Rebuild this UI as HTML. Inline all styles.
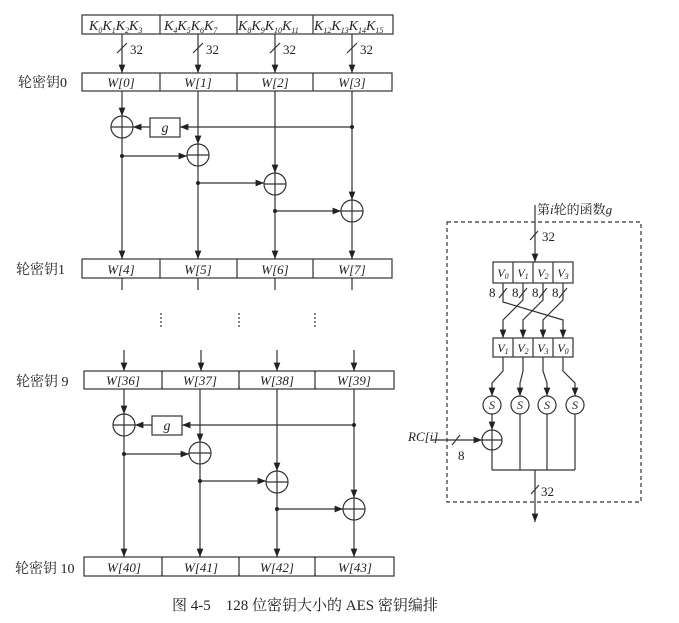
<!DOCTYPE html>
<html><head><meta charset="utf-8"><style>
html,body{margin:0;padding:0;background:#fff}
svg{display:block}
text{font-family:"Liberation Serif","Noto Serif CJK SC",serif;fill:#222}
.it{font-style:italic}
</style></head><body>
<svg width="679" height="623" viewBox="0 0 679 623" xmlns="http://www.w3.org/2000/svg">
<defs>
<marker id="a" viewBox="0 0 10 10" refX="10" refY="5" markerWidth="7" markerHeight="7" orient="auto"><path d="M0,1 L10,5 L0,9 z" fill="#222"/></marker>
</defs>
<g stroke="#333" stroke-width="1.2" fill="none">
<rect x="82" y="15" width="311" height="19"/>
<line x1="160" y1="15" x2="160" y2="34"/><line x1="237" y1="15" x2="237" y2="34"/><line x1="313" y1="15" x2="313" y2="34"/>
<line x1="122" y1="34" x2="122" y2="73" marker-end="url(#a)"/>
<line x1="198" y1="34" x2="198" y2="73" marker-end="url(#a)"/>
<line x1="275" y1="34" x2="275" y2="73" marker-end="url(#a)"/>
<line x1="352" y1="34" x2="352" y2="73" marker-end="url(#a)"/>
<line x1="117" y1="53" x2="127" y2="43"/><line x1="193" y1="53" x2="203" y2="43"/>
<line x1="270" y1="53" x2="280" y2="43"/><line x1="347" y1="53" x2="357" y2="43"/>
</g>
<g font-size="14" class="it">
<text x="89" y="30" class="it">K<tspan font-size="8" dy="3">0</tspan><tspan dy="-3">K</tspan><tspan font-size="8" dy="3">1</tspan><tspan dy="-3">K</tspan><tspan font-size="8" dy="3">2</tspan><tspan dy="-3">K</tspan><tspan font-size="8" dy="3">3</tspan></text>
<text x="164" y="30" class="it">K<tspan font-size="8" dy="3">4</tspan><tspan dy="-3">K</tspan><tspan font-size="8" dy="3">5</tspan><tspan dy="-3">K</tspan><tspan font-size="8" dy="3">6</tspan><tspan dy="-3">K</tspan><tspan font-size="8" dy="3">7</tspan></text>
<text x="238" y="30" class="it">K<tspan font-size="8" dy="3">8</tspan><tspan dy="-3">K</tspan><tspan font-size="8" dy="3">9</tspan><tspan dy="-3">K</tspan><tspan font-size="8" dy="3">10</tspan><tspan dy="-3">K</tspan><tspan font-size="8" dy="3">11</tspan></text>
<text x="314" y="30" class="it">K<tspan font-size="8" dy="3">12</tspan><tspan dy="-3">K</tspan><tspan font-size="8" dy="3">13</tspan><tspan dy="-3">K</tspan><tspan font-size="8" dy="3">14</tspan><tspan dy="-3">K</tspan><tspan font-size="8" dy="3">15</tspan></text>
</g>
<g font-size="13"><text x="130" y="54">32</text><text x="206" y="54">32</text><text x="283" y="54">32</text><text x="360" y="54">32</text></g>

<g id="r0">
<g stroke="#333" stroke-width="1.2" fill="none">
<rect x="82" y="73" width="310" height="18"/>
<line x1="160" y1="73" x2="160" y2="91"/><line x1="237" y1="73" x2="237" y2="91"/><line x1="313" y1="73" x2="313" y2="91"/>
<rect x="82" y="259" width="310" height="19"/>
<line x1="160" y1="259" x2="160" y2="278"/><line x1="237" y1="259" x2="237" y2="278"/><line x1="313" y1="259" x2="313" y2="278"/>
<circle cx="122" cy="127" r="11"/><line x1="111" y1="127" x2="133" y2="127"/><line x1="122" y1="116" x2="122" y2="138"/>
<circle cx="198" cy="155" r="11"/><line x1="187" y1="155" x2="209" y2="155"/><line x1="198" y1="144" x2="198" y2="166"/>
<circle cx="275" cy="184" r="11"/><line x1="264" y1="184" x2="286" y2="184"/><line x1="275" y1="173" x2="275" y2="195"/>
<circle cx="352" cy="211" r="11"/><line x1="341" y1="211" x2="363" y2="211"/><line x1="352" y1="200" x2="352" y2="222"/>
<rect x="150" y="118" width="30" height="19"/>
<line x1="122" y1="91" x2="122" y2="116" marker-end="url(#a)"/>
<line x1="122" y1="138" x2="122" y2="259" marker-end="url(#a)"/>
<line x1="198" y1="91" x2="198" y2="144" marker-end="url(#a)"/>
<line x1="198" y1="166" x2="198" y2="259" marker-end="url(#a)"/>
<line x1="275" y1="91" x2="275" y2="173" marker-end="url(#a)"/>
<line x1="275" y1="195" x2="275" y2="259" marker-end="url(#a)"/>
<line x1="352" y1="91" x2="352" y2="200" marker-end="url(#a)"/>
<line x1="352" y1="222" x2="352" y2="259" marker-end="url(#a)"/>
<line x1="352" y1="127" x2="180" y2="127" marker-end="url(#a)"/>
<line x1="150" y1="127" x2="133" y2="127" marker-end="url(#a)"/>
<line x1="122" y1="156" x2="187" y2="156" marker-end="url(#a)"/>
<line x1="198" y1="183" x2="264" y2="183" marker-end="url(#a)"/>
<line x1="275" y1="211" x2="341" y2="211" marker-end="url(#a)"/>
</g>
<g fill="#222"><circle cx="352" cy="127" r="2"/><circle cx="122" cy="156" r="2"/><circle cx="198" cy="183" r="2"/><circle cx="275" cy="211" r="2"/></g>
<text x="165" y="132" font-size="14" class="it" text-anchor="middle">g</text>
</g>
<g font-size="13" class="it" text-anchor="middle">
<text x="121" y="87">W[0]</text><text x="198" y="87">W[1]</text><text x="275" y="87">W[2]</text><text x="352" y="87">W[3]</text>
<text x="121" y="274">W[4]</text><text x="198" y="274">W[5]</text><text x="275" y="274">W[6]</text><text x="352" y="274">W[7]</text>
</g>
<g stroke="#333" stroke-width="1.2">
<line x1="122" y1="278" x2="122" y2="290"/><line x1="198" y1="278" x2="198" y2="290"/><line x1="275" y1="278" x2="275" y2="290"/><line x1="352" y1="278" x2="352" y2="290"/>
<line x1="161" y1="313" x2="161" y2="329" stroke-dasharray="2,2"/>
<line x1="239" y1="313" x2="239" y2="329" stroke-dasharray="2,2"/>
<line x1="315" y1="313" x2="315" y2="329" stroke-dasharray="2,2"/>
<line x1="124" y1="350" x2="124" y2="371" marker-end="url(#a)"/>
<line x1="201" y1="350" x2="201" y2="371" marker-end="url(#a)"/>
<line x1="277" y1="350" x2="277" y2="371" marker-end="url(#a)"/>
<line x1="354" y1="350" x2="354" y2="371" marker-end="url(#a)"/>
</g>
<use href="#r0" transform="translate(2,298)"/>
<g fill="#fff"><rect x="90" y="373" width="290" height="13"/><rect x="90" y="559" width="290" height="14"/></g>
<g stroke="#333" stroke-width="1.2"><line x1="162" y1="371" x2="162" y2="389"/><line x1="239" y1="371" x2="239" y2="389"/><line x1="315" y1="371" x2="315" y2="389"/>
<line x1="162" y1="557" x2="162" y2="576"/><line x1="239" y1="557" x2="239" y2="576"/><line x1="315" y1="557" x2="315" y2="576"/></g>
<g font-size="13" class="it" text-anchor="middle">
<text x="123" y="385">W[36]</text><text x="200" y="385">W[37]</text><text x="277" y="385">W[38]</text><text x="354" y="385">W[39]</text>
<text x="124" y="572">W[40]</text><text x="201" y="572">W[41]</text><text x="277" y="572">W[42]</text><text x="355" y="572">W[43]</text>
</g>
<g font-size="14">
<text x="18" y="87">轮密钥0</text><text x="16" y="274">轮密钥1</text><text x="16" y="386">轮密钥 9</text><text x="15" y="573">轮密钥 10</text>
</g>

<g stroke="#333" stroke-width="1.2" fill="none">
<rect x="447" y="222" width="194" height="280" stroke-dasharray="4,3"/>
<line x1="535" y1="205" x2="535" y2="262" marker-end="url(#a)"/>
<line x1="530" y1="240" x2="538" y2="231"/>
<rect x="493" y="262" width="80" height="21"/>
<line x1="513" y1="262" x2="513" y2="283"/><line x1="533" y1="262" x2="533" y2="283"/><line x1="553" y1="262" x2="553" y2="283"/>
<rect x="493" y="338" width="80" height="19"/>
<line x1="513" y1="338" x2="513" y2="357"/><line x1="533" y1="338" x2="533" y2="357"/><line x1="553" y1="338" x2="553" y2="357"/>
<polyline points="503,283 503,302 563,320 563,338" marker-end="url(#a)"/>
<polyline points="523,283 523,300 503,320 503,338" marker-end="url(#a)"/>
<polyline points="543,283 543,300 523,320 523,338" marker-end="url(#a)"/>
<polyline points="563,283 563,300 543,320 543,338" marker-end="url(#a)"/>
<line x1="499" y1="298" x2="507" y2="288"/><line x1="519" y1="298" x2="527" y2="288"/>
<line x1="539" y1="298" x2="547" y2="288"/><line x1="559" y1="298" x2="567" y2="288"/>
<polyline points="503,357 503,371 492,383 492,396" marker-end="url(#a)"/>
<polyline points="523,357 523,371 520,383 520,396" marker-end="url(#a)"/>
<polyline points="543,357 543,371 547,383 547,396" marker-end="url(#a)"/>
<polyline points="563,357 563,371 575,383 575,396" marker-end="url(#a)"/>
<circle cx="492" cy="405" r="9"/><circle cx="520" cy="405" r="9"/><circle cx="547" cy="405" r="9"/><circle cx="575" cy="405" r="9"/>
<line x1="492" y1="414" x2="492" y2="430" marker-end="url(#a)"/>
<circle cx="492" cy="440" r="10"/><line x1="482" y1="440" x2="502" y2="440"/><line x1="492" y1="430" x2="492" y2="450"/>
<line x1="432" y1="440" x2="482" y2="440" marker-end="url(#a)"/>
<line x1="452" y1="445" x2="460" y2="435"/>
<line x1="492" y1="450" x2="492" y2="470"/>
<line x1="520" y1="414" x2="520" y2="470"/><line x1="547" y1="414" x2="547" y2="470"/><line x1="575" y1="414" x2="575" y2="470"/>
<line x1="492" y1="470" x2="575" y2="470"/>
<line x1="535" y1="470" x2="535" y2="522" marker-end="url(#a)"/>
<line x1="531" y1="494" x2="539" y2="485"/>
</g>
<g font-size="13">
<text x="537" y="214">第<tspan class="it">i</tspan>轮的函数<tspan class="it">g</tspan></text>
<text x="542" y="241">32</text>
<text x="489" y="297">8</text><text x="512" y="297">8</text><text x="532" y="297">8</text><text x="552" y="297">8</text>
<text x="458" y="460">8</text>
<text x="541" y="496">32</text>
<text x="408" y="441" class="it">RC[i]</text>
</g>
<g font-size="12" class="it" text-anchor="middle">
<text x="503" y="277">V<tspan font-size="8" dy="2">0</tspan></text><text x="523" y="277">V<tspan font-size="8" dy="2">1</tspan></text>
<text x="543" y="277">V<tspan font-size="8" dy="2">2</tspan></text><text x="563" y="277">V<tspan font-size="8" dy="2">3</tspan></text>
<text x="503" y="352">V<tspan font-size="8" dy="2">1</tspan></text><text x="523" y="352">V<tspan font-size="8" dy="2">2</tspan></text>
<text x="543" y="352">V<tspan font-size="8" dy="2">3</tspan></text><text x="563" y="352">V<tspan font-size="8" dy="2">0</tspan></text>
</g>
<g font-size="12" class="it" text-anchor="middle">
<text x="492" y="409">S</text><text x="520" y="409">S</text><text x="547" y="409">S</text><text x="575" y="409">S</text>
</g>
<text x="172" y="610" font-size="15">图 4-5　128 位密钥大小的 AES 密钥编排</text>
</svg>
</body></html>
